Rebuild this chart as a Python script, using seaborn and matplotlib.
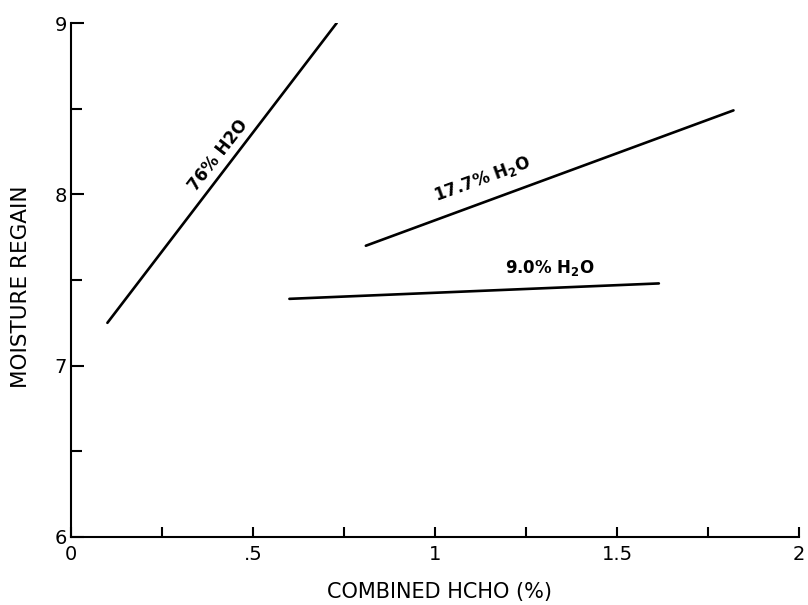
import matplotlib
matplotlib.use("Agg")
import matplotlib.pyplot as plt
import seaborn as sns
import pandas as pd
from matplotlib.ticker import FixedLocator, FixedFormatter

# Data
series_names = ["76% H2O", "17.7% H2O", "9.0% H2O"]
hcho_76 = [0.10, 0.73]
regain_76 = [7.25, 9.00]
hcho_177 = [0.81, 1.82]
regain_177 = [7.70, 8.49]
hcho_90 = [0.60, 1.615]
regain_90 = [7.39, 7.48]

x_major = [0, 0.5, 1, 1.5, 2]
x_major_labels = ["0", ".5", "1", "1.5", "2"]
x_minor = [0.25, 0.75, 1.25, 1.75]
y_major = [6, 7, 8, 9]
y_major_labels = ["6", "7", "8", "9"]
y_minor = [6.5, 7.5, 8.5]

df = pd.DataFrame({
    "hcho": hcho_76 + hcho_177 + hcho_90,
    "regain": regain_76 + regain_177 + regain_90,
    "series": [series_names[0]] * 2 + [series_names[1]] * 2 + [series_names[2]] * 2,
})

sns.set_theme(style="white")
plt.rcParams["font.family"] = ["DejaVu Sans"]
plt.rcParams["mathtext.default"] = "regular"
plt.rcParams["text.color"] = "black"
plt.rcParams["axes.labelcolor"] = "black"

fig = plt.figure(figsize=(8.08, 6.05), dpi=100)
ax = fig.add_axes([71 / 808, 1 - 537 / 605, (799 - 71) / 808, (537 - 23) / 605])

sns.lineplot(data=df, x="hcho", y="regain", units="series", estimator=None,
             color="black", linewidth=1.9, ax=ax, legend=False, sort=False)

ax.set_xlim(0, 2)
ax.set_ylim(6, 9)
for s in ["top", "right"]:
    ax.spines[s].set_visible(False)
for s in ["left", "bottom"]:
    ax.spines[s].set_color("black")
    ax.spines[s].set_linewidth(1.5)

ax.xaxis.set_major_locator(FixedLocator(x_major))
ax.xaxis.set_major_formatter(FixedFormatter(x_major_labels))
ax.xaxis.set_minor_locator(FixedLocator(x_minor))
ax.yaxis.set_major_locator(FixedLocator(y_major))
ax.yaxis.set_major_formatter(FixedFormatter(y_major_labels))
ax.yaxis.set_minor_locator(FixedLocator(y_minor))

ax.tick_params(axis="x", which="both", direction="in", length=7, width=1.5,
               color="black", bottom=True, labelsize=14, pad=6, labelcolor="black")
ax.tick_params(axis="y", which="major", direction="in", length=9.5, width=1.5,
               color="black", left=True, labelsize=14, pad=3, labelcolor="black")
ax.tick_params(axis="y", which="minor", direction="in", length=8, width=1.5,
               color="black", left=True)

ax.set_xlabel("COMBINED HCHO (%)", fontsize=15, color="black")
ax.set_ylabel("MOISTURE REGAIN", fontsize=15.5, color="black")
ax.xaxis.label.set_verticalalignment("center")
ax.yaxis.label.set_verticalalignment("center")
ax.grid(False)

# place axis labels at their pixel positions (figure coordinates)
ax.xaxis.set_label_coords(439 / 808, (605 - 592) / 605, transform=fig.transFigure)
ax.yaxis.set_label_coords(21 / 808, (605 - 287) / 605, transform=fig.transFigure)

ax.text(0.405, 8.23, "76% H2O", rotation=52, fontsize=12, fontweight="bold",
        ha="center", va="center", rotation_mode="anchor", color="black")
ax.text(1.13, 8.09, "17.7% H$_2$O", rotation=20, fontsize=12, fontweight="bold",
        ha="center", va="center", rotation_mode="anchor", color="black")
ax.text(1.316, 7.57, "9.0% H$_2$O", rotation=0, fontsize=12, fontweight="bold",
        ha="center", va="center", color="black")

fig.savefig("out.png", dpi=100)
